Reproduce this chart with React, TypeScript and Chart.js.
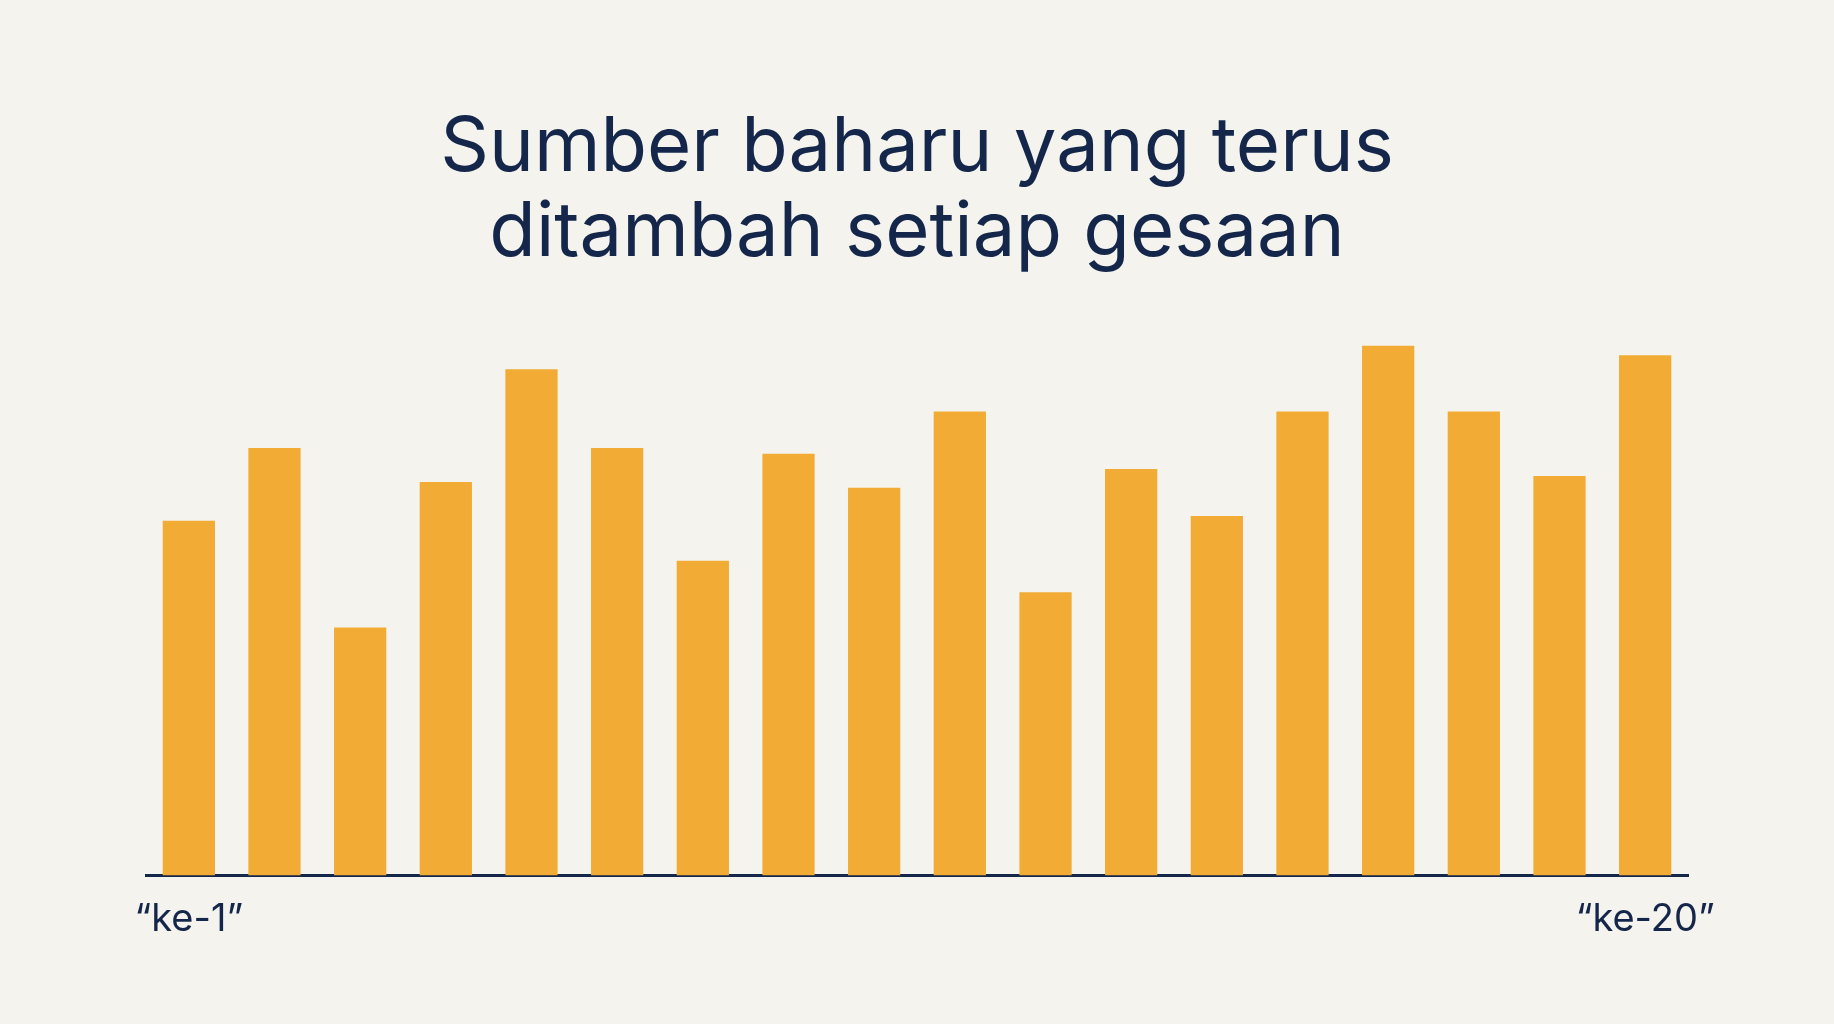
import React, { useEffect, useRef } from 'react';
import { Chart, registerables } from 'chart.js';

Chart.register(...registerables);

const titleLines = ['Sumber baharu yang terus', 'ditambah setiap gesaan'];

// tick labels: only the first and last are shown
const tickLabels = [
  '“ke-1”', '', '', '', '', '', '', '', '',
  '', '', '', '', '', '', '', '', '“ke-20”',
];

const barValues = [
  60.4, 72.8, 42.2, 67, 86.2, 72.8, 53.6, 71.8, 66,
  79, 48.2, 69.2, 61.2, 79, 90.2, 79, 68, 88.6,
];

const yMax = 98;

const App = () => {
  const chartRef = useRef<HTMLCanvasElement>(null);
  const chartInstance = useRef<Chart | null>(null);

  useEffect(() => {
    document.body.style.margin = '0';
    document.body.style.background = '#f4f3ee';

    const ctx = chartRef.current?.getContext('2d');
    if (ctx) {
      chartInstance.current = new Chart(ctx, {
        type: 'bar',
        data: {
          labels: tickLabels,
          datasets: [{
            data: barValues,
            backgroundColor: '#f2ac36',
            borderWidth: 0,
            barPercentage: 0.61,
            categoryPercentage: 1,
          }],
        },
        options: {
          animation: false,
          responsive: true,
          maintainAspectRatio: false,
          layout: {
            padding: { top: 0, left: 146, right: 146, bottom: 61 },
          },
          scales: {
            x: {
              grid: { display: false, drawTicks: false },
              border: { display: true, color: '#14264a', width: 3 },
              ticks: {
                color: '#14264a',
                font: { family: 'Inter', size: 38 },
                padding: 21,
                autoSkip: false,
                maxRotation: 0,
              },
            },
            y: {
              display: false,
              min: 0,
              max: yMax,
            },
          },
          plugins: {
            legend: { display: false },
            tooltip: { enabled: false },
            title: {
              display: true,
              text: titleLines,
              color: '#14264a',
              font: { family: 'Inter', size: 76, weight: 'normal', lineHeight: 1.118 },
              padding: { top: 106, bottom: 24 },
            },
          },
        },
      });
    }

    return () => {
      if (chartInstance.current) {
        chartInstance.current.destroy();
        chartInstance.current = null;
      }
    };
  }, []);

  return (
    <div style={{ width: '1834px', height: '1024px', background: '#f4f3ee' }}>
      <canvas ref={chartRef} />
    </div>
  );
};

export default App;
